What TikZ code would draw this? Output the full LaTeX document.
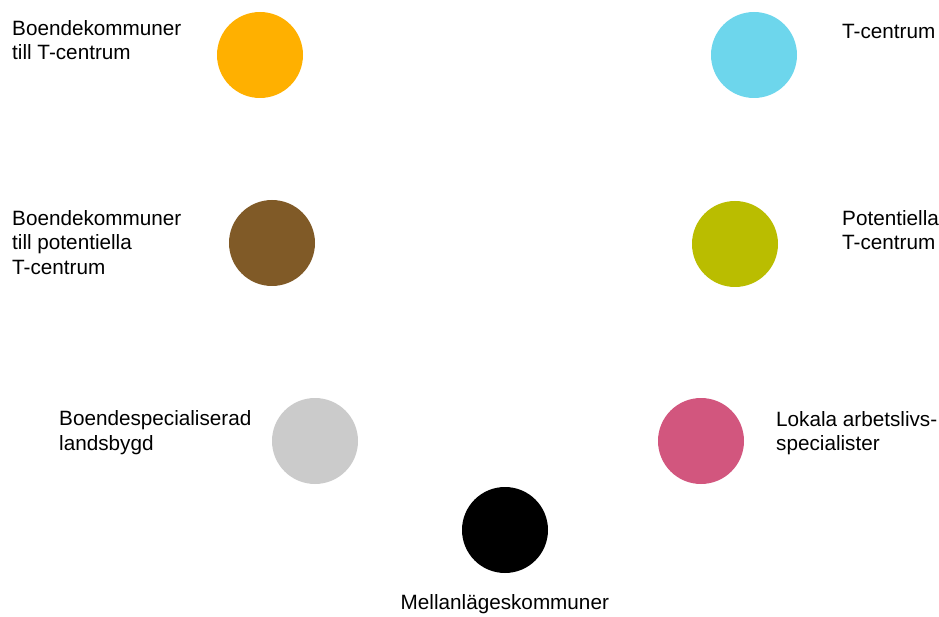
\documentclass[tikz,border=0pt]{standalone}
\usepackage{fontspec}
\setmainfont{Liberation Sans}
\definecolor{cOrange}{HTML}{FFB000}
\definecolor{cCyan}{HTML}{6DD6EC}
\definecolor{cBrown}{HTML}{805A27}
\definecolor{cOlive}{HTML}{BABD00}
\definecolor{cGray}{HTML}{CBCBCB}
\definecolor{cPink}{HTML}{D2567E}
\begin{document}
\begin{tikzpicture}[x=1pt,y=-1pt,
  dot/.style={circle,inner sep=0pt,minimum size=86pt},
  lbl/.style={anchor=base west,inner sep=0pt,align=left,
    font=\fontsize{20.7}{24.5}\selectfont}]
\useasboundingbox (0,0) rectangle (939,617);
% category dots
\node[dot,fill=cOrange] (orange) at (260,55) {};
\node[dot,fill=cCyan]   (cyan)   at (754,55) {};
\node[dot,fill=cBrown]  (brown)  at (272,243) {};
\node[dot,fill=cOlive]  (olive)  at (735,244) {};
\node[dot,fill=cGray]   (gray)   at (315,441) {};
\node[dot,fill=cPink]   (pink)   at (701,441) {};
\node[dot,fill=black]   (black)  at (505,530) {};
% labels (placed at the baseline of their last line)
\node[lbl] (tOrange) at (12,60) {Boendekommuner\\till T-centrum};
\node[lbl] (tCyan)   at (842,39) {T-centrum};
\node[lbl] (tBrown)  at (12,274.5) {Boendekommuner\\till potentiella\\T-centrum};
\node[lbl] (tOlive)  at (842,250) {Potentiella\\T-centrum};
\node[lbl] (tGray)   at (59,450) {Boendespecialiserad\\landsbygd};
\node[lbl] (tPink)   at (776,450.5) {Lokala arbetslivs-\\specialister};
\node[lbl] (tBlack)  at (400.5,609) {Mellanlägeskommuner};
\end{tikzpicture}
\end{document}
